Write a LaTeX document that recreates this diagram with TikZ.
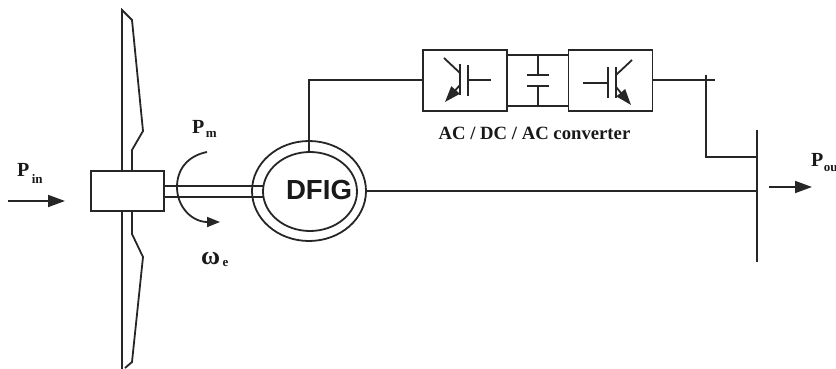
\documentclass[tikz,border=0pt]{standalone}
\usepackage{fontspec}
\setmainfont{Liberation Serif}
\newfontfamily\dfigfont{Liberation Sans}
\usetikzlibrary{arrows.meta,shapes.geometric}
\tikzset{
  wire/.style={draw=black!85,line width=1.8pt,line join=miter},
  flow/.style={wire,-{Triangle[length=17pt,width=12pt]}},
  tip/.style={wire,-{Triangle[length=16pt,width=11pt]}},
  lab/.style={inner sep=0pt,font=\fontsize{20}{20}\selectfont\bfseries,text=black!90},
  sub/.style={inner sep=0pt,font=\fontsize{13}{13}\selectfont\bfseries,text=black!90},
  conv/.style={wire,fill=white,minimum width=84pt,minimum height=61pt,inner sep=0pt}
}
\begin{document}
\begin{tikzpicture}[x=1pt,y=-1pt]
\useasboundingbox (0,0) rectangle (836,369);
% blades
\draw[wire] (122,171) -- (122,10) -- (132,20) -- (143,131) -- (132,150) -- (132,171);
\draw[wire] (122,211) -- (122,369);
\draw[wire] (132,211) -- (132,234) -- (143,257) -- (132,362) -- (125,368);
% hub
\node[wire,minimum width=73pt,minimum height=40pt,inner sep=0pt] (hub) at (127.5,191) {};
\coordinate (s1) at (263,186);
\coordinate (s2) at (263,197);
% generator
\node[wire,ellipse,minimum width=114pt,minimum height=100pt,inner sep=0pt] (outer) at (309,191) {};
\node[wire,ellipse,minimum width=94pt,minimum height=79pt,inner sep=0pt,fill=white] (gen) at (310,191.5) {};
\draw[wire] (hub.east |- s1) -- (s1);
\draw[wire] (hub.east |- s2) -- (s2);
\node[inner sep=0pt,font=\dfigfont\fontsize{27.6}{28}\selectfont\bfseries,text=black!90] (gname) at (319,190) {DFIG};
% converters
\node[conv] (c1) at (465,80.5) {};
\node[conv] (c2) at (610.5,80.5) {};
\coordinate (dc1) at (538,55);
\coordinate (dc2) at (538,106);
\coordinate (p1) at (538,75);
\coordinate (p2) at (538,86);
\draw[wire] (c1.east |- dc1) -- (c2.west |- dc1);
\draw[wire] (c1.east |- dc2) -- (c2.west |- dc2);
\draw[wire] (dc1) -- (p1) (p2) -- (dc2);
\draw[wire] (527,75) -- (549,75) (527,86) -- (549,86);
% left IGBT
\draw[wire] (491,80) -- (468,80) (468,65) -- (468,96) (460,64) -- (460,95);
\draw[wire] (444,58) -- (460,73);
\draw[tip] (460,85) -- (445,102);
% right IGBT
\draw[wire] (583,83) -- (608,83) (608,67) -- (608,98) (616,67) -- (616,98);
\draw[wire] (632,60) -- (616,75);
\draw[tip] (616,87) -- (631,105);
% connections
\coordinate (k1) at (309,80);
\draw[wire] (k1 |- gen.north) -- (k1) -- (c1.west |- k1);
\coordinate (t1) at (715,80);
\draw[wire] (c2.east |- t1) -- (t1);
\coordinate (b1) at (757,130);
\coordinate (b2) at (757,262);
\draw[wire] (b1) -- (b2);
\coordinate (t2) at (706,75);
\coordinate (t3) at (706,157);
\draw[wire] (t2) -- (t3) -- (b1 |- t3);
\draw[wire] (outer.east) -- (b1 |- outer.east);
% power arrows
\coordinate (a1) at (8,201); \coordinate (a2) at (65,201);
\draw[flow] (a1) -- (a2);
\coordinate (a3) at (769,187); \coordinate (a4) at (812,187);
\draw[flow] (a3) -- (a4);
% rotation
\coordinate (r1) at (207,152); \coordinate (r2) at (220,222);
\draw[wire,-{Triangle[length=13pt,width=10pt]}] (r1) .. controls (187,156) and (177,170) .. (177,187) .. controls (177,207) and (192,222) .. (r2);
% labels
\node[lab,anchor=base west] (lpin) at (17,176) {P};
\node[sub,anchor=base west] at ([xshift=2pt,yshift=-7pt]lpin.base east) {in};
\node[lab,anchor=base west] (lpm) at (192,133) {P};
\node[sub,anchor=base west] at ([xshift=1pt,yshift=-4pt]lpm.base east) {m};
\node[lab,anchor=base west,font=\fontsize{26}{26}\selectfont\bfseries] (lw) at (201,264) {ω};
\node[sub,anchor=base west] at ([xshift=2pt,yshift=-2pt]lw.base east) {e};
\node[lab,anchor=base west] (lpo) at (811,166) {P};
\node[sub,anchor=base west] at ([xshift=0pt,yshift=-5pt]lpo.base east) {ou};
\node[lab,font=\fontsize{18.7}{19}\selectfont\bfseries] (ct) at (534.5,133) {AC / DC / AC converter};
\end{tikzpicture}
\end{document}
